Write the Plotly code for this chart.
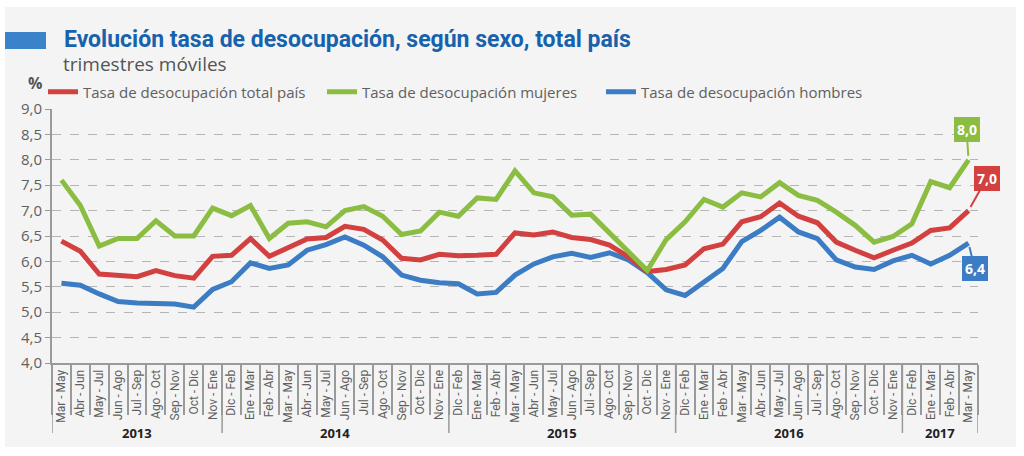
import plotly.graph_objects as go

# ---------------- data ----------------
periods = [
    "Mar - May", "Abr - Jun", "May - Jul", "Jun - Ago", "Jul - Sep", "Ago - Oct", "Sep - Nov", "Oct - Dic", "Nov - Ene",
    "Dic - Feb", "Ene - Mar", "Feb - Abr", "Mar - May", "Abr - Jun", "May - Jul", "Jun - Ago", "Jul - Sep", "Ago - Oct", "Sep - Nov", "Oct - Dic", "Nov - Ene",
    "Dic - Feb", "Ene - Mar", "Feb - Abr", "Mar - May", "Abr - Jun", "May - Jul", "Jun - Ago", "Jul - Sep", "Ago - Oct", "Sep - Nov", "Oct - Dic", "Nov - Ene",
    "Dic - Feb", "Ene - Mar", "Feb - Abr", "Mar - May", "Abr - Jun", "May - Jul", "Jun - Ago", "Jul - Sep", "Ago - Oct", "Sep - Nov", "Oct - Dic", "Nov - Ene",
    "Dic - Feb", "Ene - Mar", "Feb - Abr", "Mar - May",
]
years = ["2013", "2014", "2015", "2016", "2017"]
year_counts = [9, 12, 12, 12, 4]

total_pais = [6.4, 6.2, 5.75, 5.72, 5.7, 5.82, 5.72, 5.67, 6.1, 6.12,
              6.45, 6.1, 6.27, 6.44, 6.47, 6.69, 6.63, 6.42, 6.06, 6.03,
              6.14, 6.11, 6.12, 6.14, 6.56, 6.52, 6.58, 6.47, 6.43, 6.32,
              6.09, 5.8, 5.84, 5.93, 6.25, 6.34, 6.78, 6.88, 7.15, 6.89,
              6.76, 6.38, 6.22, 6.07, 6.22, 6.36, 6.61, 6.66, 7.0]
mujeres = [7.6, 7.1, 6.3, 6.45, 6.45, 6.8, 6.5, 6.5, 7.05, 6.9,
           7.1, 6.45, 6.75, 6.78, 6.68, 7.0, 7.08, 6.89, 6.53, 6.6,
           6.97, 6.89, 7.25, 7.22, 7.78, 7.35, 7.27, 6.91, 6.93, 6.57,
           6.2, 5.82, 6.43, 6.78, 7.22, 7.07, 7.35, 7.27, 7.55, 7.3,
           7.2, 6.97, 6.71, 6.38, 6.49, 6.74, 7.57, 7.45, 8.0]
hombres = [5.57, 5.53, 5.36, 5.21, 5.18, 5.16, 5.16, 5.1, 5.45, 5.6,
           5.97, 5.86, 5.93, 6.22, 6.33, 6.48, 6.32, 6.09, 5.73, 5.63,
           5.58, 5.56, 5.36, 5.39, 5.73, 5.95, 6.09, 6.16, 6.08, 6.17,
           6.03, 5.78, 5.44, 5.33, 5.6, 5.86, 6.39, 6.61, 6.87, 6.58,
           6.45, 6.03, 5.89, 5.84, 6.01, 6.12, 5.95, 6.12, 6.36]
end_labels = ["7,0", "8,0", "6,4"]

# ---------------- style ----------------
RED = "#d2403f"
GREEN = "#8bbd42"
BLUE = "#3b7cc4"
GREY_TXT = "#606060"
AXIS = "#9a9a9a"
NARROW = "Roboto, Liberation Sans Narrow, DejaVu Sans Condensed, sans-serif"
SANS = "Open Sans, Noto Sans, DejaVu Sans, sans-serif"

W, H = 1024, 456
ML, MR, MT, MB = 52, 46, 109, 93
PW, PH = W - ML - MR, H - MT - MB

x = list(range(len(periods)))

fig = go.Figure()
fig.add_trace(go.Scatter(x=x, y=hombres, mode="lines", name="Tasa de desocupación hombres",
                         line=dict(color=BLUE, width=5), legendrank=3))
fig.add_trace(go.Scatter(x=x, y=total_pais, mode="lines", name="Tasa de desocupación total país",
                         line=dict(color=RED, width=5), legendrank=1))
fig.add_trace(go.Scatter(x=x, y=mujeres, mode="lines", name="Tasa de desocupación mujeres",
                         line=dict(color=GREEN, width=5), legendrank=2))

def px_to_paper_x(px):
    return (px - ML) / PW

def px_to_paper_y(py):
    return (H - MB - py) / PH

shapes = []
# grey background panel
shapes.append(dict(type="rect", xref="paper", yref="paper",
                   x0=px_to_paper_x(5), x1=px_to_paper_x(1016),
                   y0=px_to_paper_y(447), y1=px_to_paper_y(7),
                   fillcolor="#f4f4f4", line=dict(width=0), layer="below"))
# blue title marker
shapes.append(dict(type="rect", xref="paper", yref="paper",
                   x0=px_to_paper_x(5), x1=px_to_paper_x(46),
                   y0=px_to_paper_y(49), y1=px_to_paper_y(32),
                   fillcolor="#3a82c9", line=dict(width=0), layer="below"))

# year group separators and labels
annotations = []
start = 0
bounds = [-0.5]
for yr, n in zip(years, year_counts):
    end = start + n
    bounds.append(end - 0.5)
    annotations.append(dict(x=(start + end - 1) / 2, y=px_to_paper_y(433), xref="x", yref="paper",
                            text=f"<b>{yr}</b>", showarrow=False, yanchor="middle",
                            font=dict(family=SANS, size=13, color="#222")))
    start = end
for b in bounds:
    shapes.append(dict(type="line", xref="x", yref="paper", x0=b, x1=b,
                       y0=0, y1=px_to_paper_y(433), line=dict(color=AXIS, width=1.5)))

# end value labels
last = len(periods) - 1
for val, txt, col, ax, ay in [(total_pais[-1], end_labels[0], RED, 18, -32),
                              (mujeres[-1], end_labels[1], GREEN, -2, -30),
                              (hombres[-1], end_labels[2], BLUE, 6, 25)]:
    annotations.append(dict(x=last, y=val, xref="x", yref="y", text=f"<b>{txt}</b>",
                            showarrow=True, arrowhead=0, arrowwidth=2, arrowcolor=col,
                            ax=ax, ay=ay, standoff=4, bgcolor=col, bordercolor=col,
                            borderpad=2, borderwidth=1,
                            font=dict(family=SANS, size=14, color="white")))

# titles
annotations.append(dict(x=px_to_paper_x(62), y=px_to_paper_y(39), xref="paper", yref="paper",
                        text="<b>Evolución tasa de desocupación, según sexo, total país</b>",
                        showarrow=False, xanchor="left", yanchor="middle",
                        font=dict(family=NARROW, size=23, color="#1762ad")))
annotations.append(dict(x=px_to_paper_x(61), y=px_to_paper_y(64), xref="paper", yref="paper",
                        text="trimestres móviles", showarrow=False, xanchor="left", yanchor="middle",
                        font=dict(family=SANS, size=19, color="#555555")))
annotations.append(dict(x=px_to_paper_x(35), y=px_to_paper_y(83), xref="paper", yref="paper",
                        text="<b>%</b>", showarrow=False, xanchor="center", yanchor="middle",
                        font=dict(family=SANS, size=16, color="#555555")))

fig.update_layout(
    width=W, height=H,
    margin=dict(l=ML, r=MR, t=MT, b=MB),
    paper_bgcolor="white",
    plot_bgcolor="rgba(0,0,0,0)",
    separators=",.",
    showlegend=True,
    legend=dict(orientation="h", x=px_to_paper_x(43), y=px_to_paper_y(92),
                xanchor="left", yanchor="middle", bgcolor="rgba(0,0,0,0)",
                font=dict(family=SANS, size=15, color=GREY_TXT),
                entrywidth=234, entrywidthmode="pixels", itemwidth=30),
    shapes=shapes,
    annotations=annotations,
    xaxis=dict(range=[-0.5, last + 0.5], tickmode="array", tickvals=x, ticktext=periods,
               tickangle=-90, ticks="", showgrid=False, zeroline=False,
               showline=True, linecolor=AXIS, linewidth=2,
               tickfont=dict(family=NARROW, size=12, color=GREY_TXT),
               minor=dict(tickmode="array", tickvals=[i + 0.5 for i in range(-1, last + 1)],
                          ticks="outside", ticklen=50, tickcolor=AXIS, tickwidth=1.5, showgrid=False)),
    yaxis=dict(range=[4, 9], dtick=0.5, tick0=4, tickformat=".1f",
               showgrid=True, gridcolor="#b5b5b5", griddash="dash", gridwidth=1.2,
               zeroline=False, showline=True, linecolor=AXIS, linewidth=2,
               ticks="outside", ticklen=5, tickcolor=AXIS,
               tickfont=dict(family=SANS, size=15, color=GREY_TXT)),
)

fig.write_html("out.html")
